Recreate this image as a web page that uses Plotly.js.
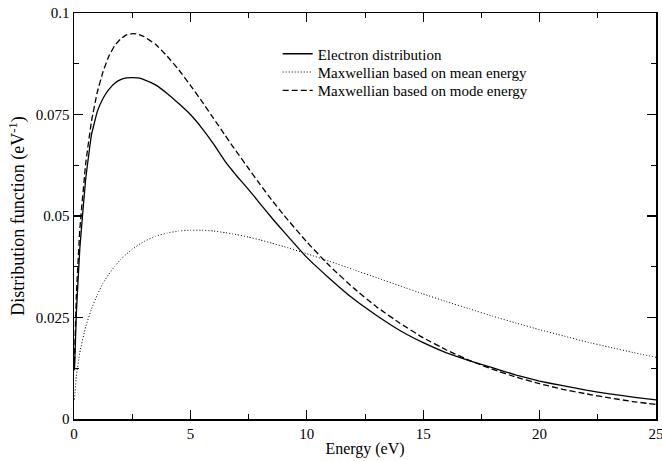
<!DOCTYPE html>
<html>
<head>
<meta charset="utf-8">
<script src="https://cdn.plot.ly/plotly-3.0.1.min.js"></script>
<style>html,body{margin:0;padding:0;background:#fff;}#chart{width:662px;height:461px;}</style>
</head>
<body>
<div id="chart"></div>
<script>
// Energy grid (eV)
const energy = [0.02, 0.1, 0.25, 0.5, 0.75, 1, 1.25, 1.5, 1.75, 2, 2.25, 2.5, 2.75, 3, 3.5, 4, 4.5, 5, 5.5, 6, 6.5, 6.8, 7, 7.5, 8, 8.5, 9, 10, 11, 12, 13, 14, 15, 16, 17, 18, 19, 20, 21, 22, 23, 24, 25];

// Electron distribution (solid)
const electron = [0.012, 0.026, 0.042, 0.059, 0.0700, 0.0757, 0.0790, 0.0812, 0.0827, 0.0836, 0.0840, 0.0841, 0.0840, 0.0836, 0.0823, 0.0802, 0.0777, 0.0750, 0.0716, 0.0677, 0.0634, 0.0612, 0.0598, 0.0565, 0.0530, 0.0495, 0.0462, 0.0398, 0.0345, 0.0296, 0.0255, 0.0218, 0.0188, 0.0163, 0.0143, 0.0126, 0.0108, 0.0093, 0.0082, 0.0071, 0.0062, 0.0054, 0.0047];

// Maxwellian based on mean energy (dotted)
const maxMean = [0.0048, 0.0105, 0.0164, 0.0227, 0.0271, 0.0306, 0.0335, 0.0357, 0.0376, 0.0393, 0.0406, 0.0418, 0.0428, 0.0437, 0.0450, 0.0458, 0.0463, 0.0465, 0.0465, 0.0463, 0.0459, 0.0456, 0.0454, 0.0448, 0.0441, 0.0433, 0.0425, 0.0407, 0.0388, 0.0368, 0.0348, 0.0328, 0.0308, 0.0289, 0.0271, 0.0253, 0.0236, 0.0220, 0.0205, 0.0190, 0.0177, 0.0164, 0.0152];

// Maxwellian based on mode energy (dashed)
const maxMode = [0.0138, 0.0304, 0.0467, 0.0628, 0.0733, 0.0805, 0.0856, 0.0894, 0.0920, 0.0936, 0.0946, 0.0949, 0.0948, 0.0942, 0.0923, 0.0894, 0.0860, 0.0822, 0.0782, 0.0740, 0.0698, 0.0673, 0.0657, 0.0617, 0.0577, 0.0539, 0.0503, 0.0436, 0.0376, 0.0323, 0.0276, 0.0236, 0.0200, 0.0170, 0.0144, 0.0122, 0.0103, 0.0087, 0.0073, 0.0062, 0.0052, 0.0043, 0.0036];

const seriesNames = ["Electron distribution", "Maxwellian based on mean energy", "Maxwellian based on mode energy"];
const xTickVals = [0, 5, 10, 15, 20, 25];
const xTickText = ["0", "5", "10", "15", "20", "25"];
const yTickVals = [0, 0.025, 0.05, 0.075, 0.1];
const yTickText = ["0", "0.025", "0.05", "0.075", "0.1"];

const fam = "Liberation Serif, serif";
const tickFont = {family: fam, size: 15, color: "#000"};
const legFont = {family: fam, size: 15, color: "#000"};

const traces = [
  {x: energy, y: electron, name: seriesNames[0], type: "scatter", mode: "lines", legend: "legend",
   line: {color: "#000", width: 1.3, dash: "solid", shape: "spline", smoothing: 0.25}},
  {x: energy, y: maxMean, name: seriesNames[1], type: "scatter", mode: "lines", legend: "legend2",
   line: {color: "#000", width: 1, dash: "1px,2px", shape: "spline", smoothing: 0.25}},
  {x: energy, y: maxMode, name: seriesNames[2], type: "scatter", mode: "lines", legend: "legend3",
   line: {color: "#000", width: 1.3, dash: "6px,3px", shape: "spline", smoothing: 0.25}}
];

const axisCommon = {
  showgrid: false, zeroline: false, showline: true, linecolor: "#000", linewidth: 1.5,
  mirror: "ticks", ticks: "inside", ticklen: 9, tickwidth: 1.2, tickcolor: "#000",
  tickfont: tickFont, ticklabeloverflow: "allow"
};

const legBase = {x: 0.35, xanchor: "left", yanchor: "middle", bgcolor: "rgba(0,0,0,0)",
                 font: legFont, itemwidth: 30, borderwidth: 0};

const layout = {
  width: 662, height: 461,
  margin: {l: 74, r: 6, t: 13, b: 42},
  paper_bgcolor: "#fff", plot_bgcolor: "#fff",
  font: tickFont,
  showlegend: true,
  legend: Object.assign({}, legBase, {y: 0.899}),
  legend2: Object.assign({}, legBase, {y: 0.854}),
  legend3: Object.assign({}, legBase, {y: 0.809}),
  xaxis: Object.assign({}, axisCommon, {
    range: [0, 25], tickvals: xTickVals, ticktext: xTickText,
    minor: {tickvals: [2.5, 7.5, 12.5, 17.5, 22.5], ticks: "inside", ticklen: 5, tickcolor: "#000", tickwidth: 1},
    title: {text: "Energy (eV)", font: {family: fam, size: 16, color: "#000"}, standoff: 2}
  }),
  yaxis: Object.assign({}, axisCommon, {
    range: [0, 0.1], tickvals: yTickVals, ticktext: yTickText,
    minor: {tickvals: [0.0125, 0.0375, 0.0625, 0.0875], ticks: "inside", ticklen: 5, tickcolor: "#000", tickwidth: 1},
    title: {text: "Distribution function (eV<sup>-1</sup>)", font: {family: fam, size: 18, color: "#000"}, standoff: 6}
  })
};

Plotly.newPlot("chart", traces, layout, {displayModeBar: false, staticPlot: true});
</script>
</body>
</html>
